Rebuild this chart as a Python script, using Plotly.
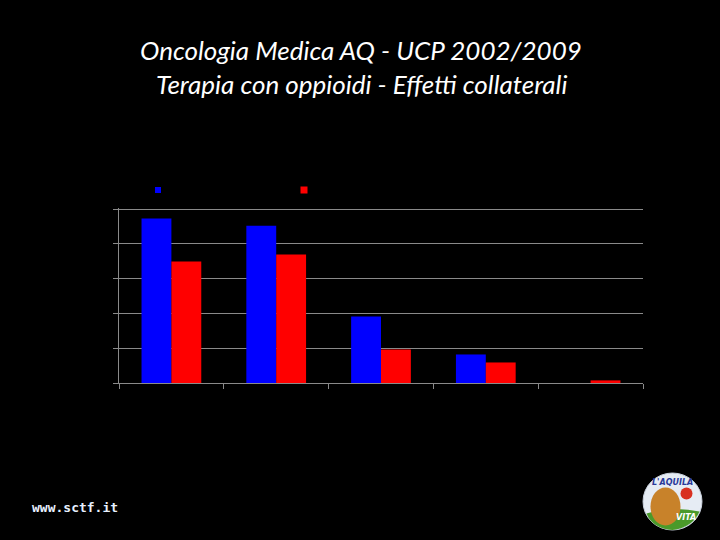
import plotly.graph_objects as go

categories = ["Cat. 1", "Cat. 2", "Cat. 3", "Cat. 4", "Cat. 5"]
series_names = ["Serie 1", "Serie 2"]
series_blue = [47.3, 45.2, 19.1, 8.2, 0.0]
series_red = [34.9, 36.9, 9.6, 5.9, 0.75]
y_tick_values = [0, 10, 20, 30, 40, 50]
title_lines = ["Oncologia Medica AQ - UCP 2002/2009", "Terapia con oppioidi - Effetti collaterali"]
footer_text = "www.sctf.it"

BLUE = "#0000ff"
RED = "#ff0000"
GRID = "#8a8a8a"

W, H = 720, 540
ML, MR, MT, MB = 119, 77, 208, 157
PW, PH = W - ML - MR, H - MT - MB


def px_x(px):
    return (px - ML) / PW


def px_y(py):
    return (H - MB - py) / PH


fig = go.Figure()
fig.add_bar(x=categories, y=series_blue, name=series_names[0],
            marker=dict(color=BLUE, line_width=0))
fig.add_bar(x=categories, y=series_red, name=series_names[1],
            marker=dict(color=RED, line_width=0))

fig.update_layout(
    width=W, height=H,
    paper_bgcolor="black", plot_bgcolor="black",
    margin=dict(l=ML, r=MR, t=MT, b=MB),
    barmode="group", bargap=0.43, bargroupgap=0,
    showlegend=False,
)
fig.update_xaxes(
    showline=True, linecolor=GRID, linewidth=1,
    ticks="outside", tickson="boundaries", ticklen=5, tickcolor=GRID,
    tickfont=dict(color="black", size=11), showgrid=False,
)
fig.update_yaxes(
    range=[0, 50.3], tickvals=y_tick_values,
    showline=True, linecolor=GRID, linewidth=1,
    ticks="outside", ticklen=5, tickcolor=GRID,
    showgrid=True, gridcolor=GRID, gridwidth=1, zeroline=False,
    tickfont=dict(color="black", size=11),
)

# Title lines
for line, py in zip(title_lines, [50, 84]):
    fig.add_annotation(
        text="<i>" + line + "</i>", xref="paper", yref="paper",
        x=px_x(361), y=px_y(py), xanchor="center", yanchor="middle",
        showarrow=False, font=dict(family="Lato", size=26, color="white"),
    )

# Legend keys (labels are invisible in the reference)
for cx, cy, s, col in [(158, 190, 3, BLUE), (304, 190, 3.5, RED)]:
    fig.add_shape(type="rect", xref="paper", yref="paper",
                  xsizemode="pixel", ysizemode="pixel",
                  xanchor=px_x(cx), yanchor=px_y(cy),
                  x0=-s, x1=s, y0=-s, y1=s,
                  fillcolor=col, line_width=0)

# Footer website text
fig.add_annotation(
    text="<b>" + footer_text + "</b>", xref="paper", yref="paper",
    x=px_x(75), y=px_y(507), xanchor="center", yanchor="middle",
    showarrow=False, font=dict(family="DejaVu Sans Mono", size=13, color="#e8f0ff"),
)

# Logo approximation
lx, ly = px_x(672.5), px_y(501.5)
fig.add_shape(type="circle", xref="paper", yref="paper",
              xsizemode="pixel", ysizemode="pixel", xanchor=lx, yanchor=ly,
              x0=-29.5, x1=29.5, y0=-28.5, y1=28.5,
              fillcolor="#e6ecf4", line=dict(color="#c8d0dc", width=1))
fig.add_shape(type="path", xref="paper", yref="paper",
              xsizemode="pixel", ysizemode="pixel", xanchor=lx, yanchor=ly,
              path="M -26,-12 Q 0,-4 27,-10 Q 20,-26 0,-28.5 Q -20,-27 -26,-12 Z",
              fillcolor="#4a9a2a", line_width=0)
fig.add_shape(type="circle", xref="paper", yref="paper",
              xsizemode="pixel", ysizemode="pixel", xanchor=lx, yanchor=ly,
              x0=-22, x1=8, y0=-24, y1=14,
              fillcolor="#c8822a", line_width=0)
fig.add_shape(type="circle", xref="paper", yref="paper",
              xsizemode="pixel", ysizemode="pixel", xanchor=lx, yanchor=ly,
              x0=8, x1=20, y0=2, y1=14,
              fillcolor="#d83020", line_width=0)
fig.add_annotation(text="<b><i>L'AQUILA</i></b>", xref="paper", yref="paper",
                   x=lx, y=px_y(482), xanchor="center", yanchor="middle",
                   showarrow=False, font=dict(family="DejaVu Sans", size=8, color="#2a3a9a"))
fig.add_annotation(text="<b><i>VITA</i></b>", xref="paper", yref="paper",
                   x=px_x(686), y=px_y(517), xanchor="center", yanchor="middle",
                   showarrow=False, font=dict(family="DejaVu Sans", size=8, color="white"))

fig.write_html("out.html")
